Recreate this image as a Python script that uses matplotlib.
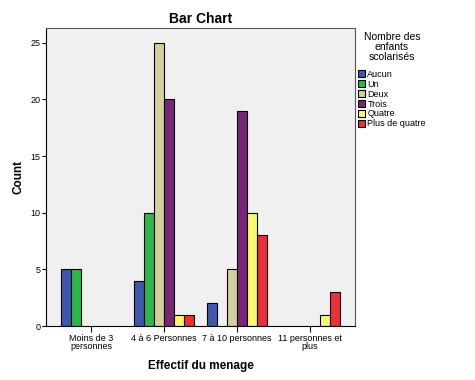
import matplotlib.pyplot as plt
import numpy as np

plt.rcParams['font.family'] = ['Liberation Sans', 'DejaVu Sans']

categories = ["Moins de 3\npersonnes", "4 à 6 Personnes", "7 à 10 personnes", "11 personnes et\nplus"]
series = ["Aucun", "Un", "Deux", "Trois", "Quatre", "Plus de quatre"]
aucun = [5, 4, 2, 0]
un = [5, 10, 0, 0]
deux = [0, 25, 5, 0]
trois = [0, 20, 19, 0]
quatre = [0, 1, 10, 1]
plus_de_quatre = [0, 1, 8, 3]
colors = ["#3E58AC", "#2EB84A", "#D4D09A", "#7A2678", "#FAFA70", "#E83038"]

values = [aucun, un, deux, trois, quatre, plus_de_quatre]

fig = plt.figure(figsize=(4.75, 3.8), dpi=100)
ax = fig.add_axes([0.097, 0.142, 0.650, 0.784])
ax.set_facecolor("#F0F0F0")

x = np.arange(len(categories))
w = 0.137
for i, (name, vals, c) in enumerate(zip(series, values, colors)):
    offs = (i - 2.5) * w
    xs = [xi + offs for xi, v in zip(x, vals) if v > 0]
    vs = [v for v in vals if v > 0]
    ax.bar(xs, vs, width=w, color=c, edgecolor="black", linewidth=0.8, label=name)

ax.set_xlim(-0.616, 3.616)
ax.set_ylim(0, 26.3)
ax.set_yticks([0, 5, 10, 15, 20, 25])
ax.set_xticks(x)
ax.set_xticklabels(categories, fontsize=6.5, linespacing=0.85)
ax.tick_params(axis='y', labelsize=6.5, length=3, width=0.8, pad=1)
ax.tick_params(axis='x', length=4, width=0.8, pad=2)
for s in ax.spines.values():
    s.set_color("#555555")
    s.set_linewidth(0.8)
ax.spines['left'].set_color("black")
ax.spines['bottom'].set_color("black")

ax.set_title("Bar Chart", fontsize=10, fontweight="bold", pad=4)
ax.set_ylabel("Count", fontsize=8.5, fontweight="bold", labelpad=4)
ax.set_xlabel("Effectif du menage", fontsize=8.5, fontweight="bold", labelpad=6)

# legend title as separate text so its line spacing can match
fig.text(392 / 475, 1 - 47 / 380, "Nombre des\nenfants\nscolarisés", fontsize=7.5,
         ha="center", va="center", multialignment="center", linespacing=0.95)
leg = ax.legend(loc="upper left", bbox_to_anchor=(0.997, 0.872), frameon=False,
                fontsize=6.5, handlelength=0.8, handleheight=0.9,
                handletextpad=0.3, labelspacing=0.1, borderaxespad=0.2,
                borderpad=0.2)

fig.savefig("out.png", dpi=100)
